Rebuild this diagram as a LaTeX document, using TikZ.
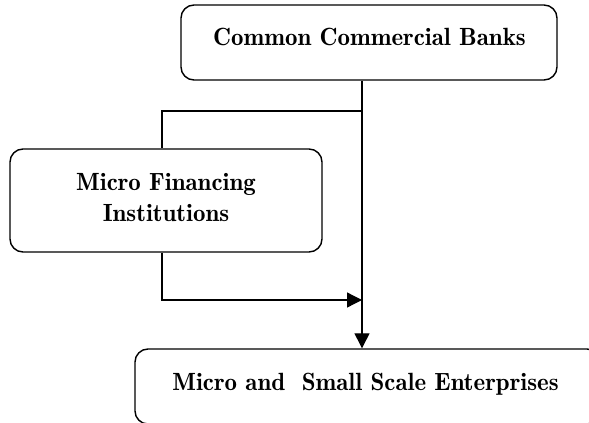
\documentclass[tikz,border=0pt]{standalone}
\usepackage{fontspec}
\newfontfamily\boxfont{lmromandemi10-regular.otf}
\usetikzlibrary{arrows.meta}
\tikzset{
  boxshape/.style={draw, line width=1.4pt, rounded corners=13pt, inner sep=0pt, anchor=center},
  boxtext/.style={font=\boxfont\fontsize{24.9}{31}\selectfont, inner sep=0pt, anchor=base, align=center},
  conn/.style={line width=1.3pt},
  arr/.style={conn, -{Triangle[length=15pt,width=15pt]}}
}
\begin{document}
\begin{tikzpicture}[x=1pt,y=-1pt]
\useasboundingbox (0,0) rectangle (589,423);
\clip (0,0) rectangle (589,423);
% boxes
\node[boxshape, minimum width=376pt, minimum height=75pt] (ccb) at (369,42.5) {};
\node[boxshape, minimum width=312pt, minimum height=103pt] (mfi) at (166,200.5) {};
\node[boxshape, minimum width=465pt, minimum height=75pt] (mse) at (367.5,386.5) {};
% texts
\node[boxtext] (ccbt) at (369.5,45) {Common Commercial Banks};
\node[boxtext] (mfit1) at (166,190.7) {Micro Financing};
\node[boxtext] (mfit2) at (166,221.7) {Institutions};
\node[boxtext] (mset) at (365.5,390) {Micro and~~Small Scale Enterprises};
% junctions
\coordinate (trunk) at (362,111);
\coordinate (brx) at (162,111);
\coordinate (lo) at (162,300);
% connectors
\draw[arr] (ccb.south -| trunk) -- (mse.north -| trunk);
\draw[conn] (trunk) -- (brx) -- (brx |- mfi.north);
\draw[arr] (lo |- mfi.south) -- (lo) -- (lo -| trunk);
\end{tikzpicture}
\end{document}
